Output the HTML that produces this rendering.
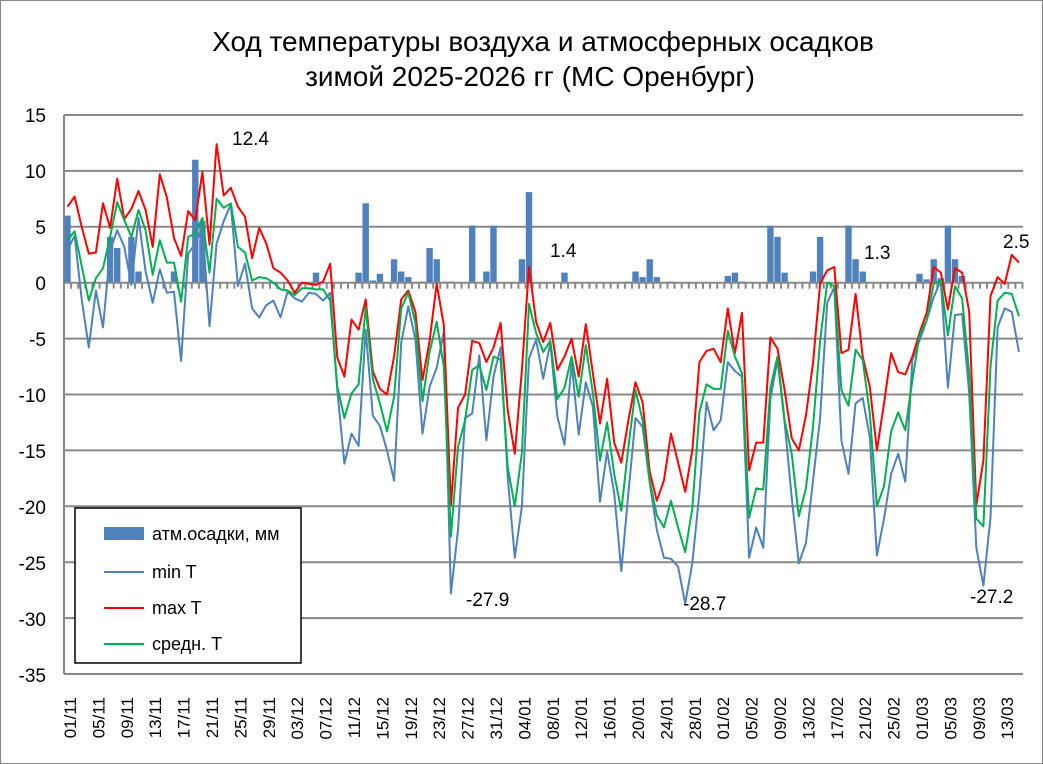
<!DOCTYPE html>
<html><head><meta charset="utf-8"><style>
html,body{margin:0;padding:0;background:#fff}
svg{display:block;font-family:"Liberation Sans","DejaVu Sans",sans-serif}
</style></head><body>
<svg id="c" width="1043" height="764" viewBox="0 0 1043 764" xmlns="http://www.w3.org/2000/svg">
<rect x="0.5" y="0.5" width="1042" height="763" fill="#fff" stroke="#888" stroke-width="1"/>
<text x="543" y="51" font-size="28" text-anchor="middle">Ход температуры воздуха и атмосферных осадков</text>
<text x="530" y="86" font-size="28" text-anchor="middle">зимой 2025-2026 гг (МС Оренбург)</text>
<g id="grid"></g>
<g font-size="19" text-anchor="end">
<text x="46" y="122">15</text><text x="46" y="178">10</text><text x="46" y="234">5</text><text x="46" y="290">0</text>
<text x="46" y="346">-5</text><text x="46" y="402">-10</text><text x="46" y="458">-15</text><text x="46" y="514">-20</text>
<text x="46" y="570">-25</text><text x="46" y="626">-30</text><text x="46" y="682">-35</text>
</g>
<g id="bars"></g>
<g id="lines"></g>
<g font-size="19">
<text x="232" y="145">12.4</text>
<text x="550" y="257">1.4</text>
<text x="864" y="259">1.3</text>
<text x="1003" y="248">2.5</text>
<text x="466" y="606">-27.9</text>
<text x="683" y="610">-28.7</text>
<text x="970" y="603">-27.2</text>
</g>
<g id="xl" font-size="17" text-anchor="end">
<text transform="translate(76,697) rotate(-90)">01/11</text>
<text transform="translate(104.4,697) rotate(-90)">05/11</text>
<text transform="translate(132.8,697) rotate(-90)">09/11</text>
<text transform="translate(161.2,697) rotate(-90)">13/11</text>
<text transform="translate(189.6,697) rotate(-90)">17/11</text>
<text transform="translate(218,697) rotate(-90)">21/11</text>
<text transform="translate(246.4,697) rotate(-90)">25/11</text>
<text transform="translate(274.8,697) rotate(-90)">29/11</text>
<text transform="translate(303.2,697) rotate(-90)">03/12</text>
<text transform="translate(331.6,697) rotate(-90)">07/12</text>
<text transform="translate(360,697) rotate(-90)">11/12</text>
<text transform="translate(388.4,697) rotate(-90)">15/12</text>
<text transform="translate(416.8,697) rotate(-90)">19/12</text>
<text transform="translate(445.2,697) rotate(-90)">23/12</text>
<text transform="translate(473.6,697) rotate(-90)">27/12</text>
<text transform="translate(502,697) rotate(-90)">31/12</text>
<text transform="translate(530.4,697) rotate(-90)">04/01</text>
<text transform="translate(558.8,697) rotate(-90)">08/01</text>
<text transform="translate(587.2,697) rotate(-90)">12/01</text>
<text transform="translate(615.6,697) rotate(-90)">16/01</text>
<text transform="translate(644,697) rotate(-90)">20/01</text>
<text transform="translate(672.4,697) rotate(-90)">24/01</text>
<text transform="translate(700.8,697) rotate(-90)">28/01</text>
<text transform="translate(729.2,697) rotate(-90)">01/02</text>
<text transform="translate(757.6,697) rotate(-90)">05/02</text>
<text transform="translate(786,697) rotate(-90)">09/02</text>
<text transform="translate(814.4,697) rotate(-90)">13/02</text>
<text transform="translate(842.8,697) rotate(-90)">17/02</text>
<text transform="translate(871.2,697) rotate(-90)">21/02</text>
<text transform="translate(899.6,697) rotate(-90)">25/02</text>
<text transform="translate(928,697) rotate(-90)">01/03</text>
<text transform="translate(956.4,697) rotate(-90)">05/03</text>
<text transform="translate(984.8,697) rotate(-90)">09/03</text>
<text transform="translate(1013.2,697) rotate(-90)">13/03</text>
</g>
<g>
<rect x="75" y="508" width="226" height="155" fill="#fff" stroke="#000" stroke-width="1.5"/>
<rect x="104" y="527" width="40" height="13" fill="#4f81bd"/>
<text x="152" y="540" font-size="18">атм.осадки, мм</text>
<line x1="104" y1="572" x2="144" y2="572" stroke="#4f81bd" stroke-width="2"/>
<text x="152" y="578" font-size="18">min T</text>
<line x1="104" y1="608" x2="144" y2="608" stroke="#ff0000" stroke-width="2"/>
<text x="152" y="614" font-size="18">max T</text>
<line x1="104" y1="644" x2="144" y2="644" stroke="#00b050" stroke-width="2"/>
<text x="152" y="650" font-size="18">средн. T</text>
</g>
</svg>
<script>
(function(){
var NS="http://www.w3.org/2000/svg";
function Y(v){return 282.7-v*11.18;}
function X(i){return 67.5+i*7.1;}
var L=64,R=1023;
var g=document.getElementById('grid');
function el(p,t,a){var e=document.createElementNS(NS,t);for(var k in a)e.setAttribute(k,a[k]);p.appendChild(e);return e;}
for(var v=15;v>=-35;v-=5){ if(v==0)continue; el(g,'line',{x1:L,x2:R,y1:Y(v),y2:Y(v),stroke:'#888','stroke-width':2});}
el(g,'line',{x1:L,x2:L,y1:Y(15),y2:Y(-35),stroke:'#888','stroke-width':2});
var mx=[6.8,7.7,5.0,2.6,2.7,7.1,4.9,9.3,5.7,6.6,8.2,6.5,3.2,9.7,7.6,4,2.4,6.4,5.6,9.9,3.4,12.4,7.8,8.5,6.8,5.9,2.2,4.9,3.5,1.3,0.9,0.2,-0.9,0,-0.1,
-0.2,0.1,1.7,-6.7,-8.4,-3.3,-4.2,-1.5,-7.9,-9.5,-10,-6.6,-1.5,-0.7,-2.6,-8.7,-5.2,-0.1,-3.8,-19.9,-11.2,-10,-5.2,-5.4,-7.1,-5.8,-3.6,-11.4,-15.3,-7.8,1.4,-3.5,-5.3,-3.6,
-7.8,-6.6,-5,-8.4,-3.7,-8.1,-12.6,-8.6,-14.3,-16.1,-12.3,-8.9,-10.7,-16.9,-19.5,-17.7,-13.5,-16.1,-18.7,-15,-7.1,-6.1,-5.9,-7.1,-2.3,-6.3,-2.7,-16.8,-14.3,-14.3,-4.9,-5.9,-9.6,-13.9,-15,-11.9,-7.2,-0.1,1.1,1.4,-6.3,-6,-1,-6.6,-9.3,-15,-10.8,-6.3,-8,-8.2,-6.6,-4.5,-2.7,1.4,0.9,-2.4,1.3,0.9,-2.6,-19.9,-15.9,-1.2,0.5,-0.1,2.5,1.8];
var av=[3.8,4.6,1.5,-1.6,0.4,1.3,4.1,7.2,5.6,4.1,6.5,4.7,0.7,3.8,1.8,1.8,-1.7,4.1,4.4,5.8,0.9,7.5,6.7,7.1,3.2,2.7,0.2,0.5,0.4,0,-0.6,-0.7,-1.1,-0.5,-0.5,
-0.6,-0.6,-1.6,-9.3,-12.1,-9.9,-9.1,-2.2,-8.6,-10.8,-13.3,-10.2,-2.3,-0.9,-3.6,-10.6,-6.2,-3.5,-7.5,-22.7,-14.7,-12.3,-7.8,-7.4,-9.6,-6.6,-6.9,-16.5,-20,-15.2,-1.9,-4.5,-6.2,-5.2,
-10.4,-9.4,-6.6,-10.2,-5.6,-9.9,-15.9,-12.5,-17.1,-20.4,-14.7,-9.6,-12.3,-17.7,-20.8,-21.9,-19.5,-21.9,-24.1,-20.2,-11.6,-9.1,-9.5,-9.5,-4.3,-6.6,-8.1,-21,-18.4,-18.5,-9.4,-6.6,-12.3,-15.3,-20.9,-18.4,-12.9,-5.2,0,-0.3,-9.6,-11,-6,-6.9,-11.7,-20,-18.2,-13.3,-11.6,-13.2,-8.7,-4.7,-3.4,-0.1,0.2,-4.7,-0.3,-1.4,-8.1,-21.1,-21.8,-7.5,-1.6,-0.9,-1,-3];
var mn=[2.9,4.2,-1.5,-5.8,-0.7,-4,2.9,4.7,3.2,-0.2,5.8,1,-1.8,1.2,-0.9,-0.8,-7,2.6,3.5,5,-3.9,3.5,5.5,7,-0.3,1.7,-2.3,-3.1,-2,-1.6,-3.1,-0.8,-1.4,-1.7,-0.9,
-1.0,-1.6,-0.9,-9.6,-16.2,-13.5,-14.6,-4.2,-11.9,-12.8,-15,-17.7,-5.4,-2.1,-5.1,-13.5,-9.3,-7.6,-4.4,-27.8,-22.1,-12.1,-11.7,-6.5,-14.1,-8.4,-5.8,-17.4,-24.6,-20,-6.8,-5.1,-8.6,-5.4,
-12,-14.5,-7.2,-13.6,-8.9,-11.1,-19.6,-15.1,-18.8,-25.8,-18.8,-12.1,-12.9,-17.9,-22.1,-24.6,-24.7,-25.4,-28.7,-25.1,-18.8,-10.7,-13.2,-12.3,-7.1,-7.9,-8.4,-24.6,-21.9,-23.7,-10.4,-6.9,-12.5,-19.2,-25.1,-23.3,-17.7,-12.1,-1.8,-0.4,-14.1,-17.1,-10.8,-10.3,-13.8,-24.4,-21.1,-17.1,-15.3,-17.8,-6.9,-5.2,-3.4,-1.3,0.2,-9.4,-2.9,-2.8,-9.9,-23.7,-27.1,-21,-4,-2.3,-2.6,-6.2];
var pr={0:6,6:4.1,7:3.1,9:4.1,10:1,15:1,18:11,19:5.5,35:0.9,41:0.9,42:7.1,43:0.2,44:0.8,46:2.1,47:1,48:0.5,50:0.1,51:3.1,52:2.1,53:0.1,54:0.1,57:5.1,59:1,60:5.1,64:2.1,65:8.1,70:0.9,79:0.1,80:1,81:0.5,82:2.1,83:0.5,85:0.1,93:0.6,94:0.9,95:0.1,99:5.1,100:4.1,101:0.9,105:1,106:4.1,110:5.1,111:2.1,112:1,120:0.8,121:0.3,122:2.1,123:0.4,124:5.1,125:2.1,126:0.6};
var b=document.getElementById('bars');
for(var k in pr){var i=+k;var h=pr[k]*11.18;el(b,'rect',{x:X(i)-3.2,y:Y(0)-h,width:6.4,height:h,fill:'#4f81bd'});}
el(b,'line',{x1:L,x2:R,y1:Y(0),y2:Y(0),stroke:'#888','stroke-width':2});
for(var i=0;i<=135;i++){var x=L+i*7.1;el(b,'line',{x1:x,x2:x,y1:Y(0),y2:Y(0)+6,stroke:'#888','stroke-width':2});}
var ln=document.getElementById('lines');
function poly(a,c){var p=a.map(function(v,i){return X(i).toFixed(1)+','+Y(v).toFixed(1);}).join(' ');el(ln,'polyline',{points:p,fill:'none',stroke:c,'stroke-width':2,'stroke-linejoin':'round'});}
poly(mn,'#4f81bd');poly(mx,'#ff0000');poly(av,'#00b050');
})();
</script>
</body></html>
